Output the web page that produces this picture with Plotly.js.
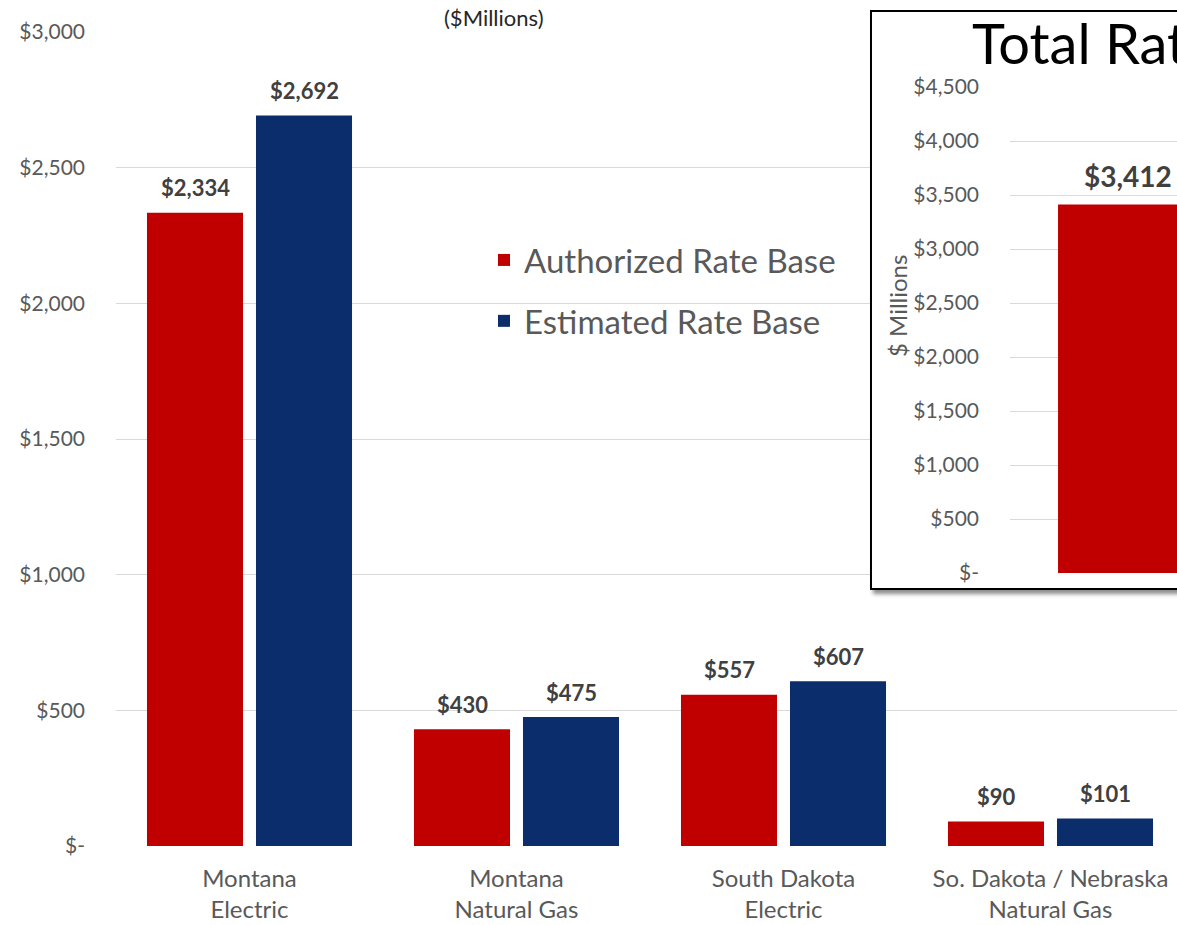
<!DOCTYPE html>
<html>
<head>
<meta charset="utf-8">
<script src="https://cdn.plot.ly/plotly-3.0.1.min.js"></script>
<style>
  html, body { margin:0; padding:0; background:#fff; overflow:hidden; width:1177px; height:925px; }
  #main { position:absolute; left:0; top:0; width:1177px; height:925px; }
  #inset { position:absolute; left:870px; top:10px; width:620px; height:576px;
           border:2px solid #000; background:#fff; box-shadow:3px 4px 4px rgba(0,0,0,0.45); }
</style>
</head>
<body>
<div id="main"></div>
<div id="inset"></div>
<script>
// ---- data ----
const categories = ["Montana<br>Electric", "Montana<br>Natural Gas", "South Dakota<br>Electric", "So. Dakota / Nebraska<br>Natural Gas"];
const seriesNames = ["Authorized Rate Base", "Estimated Rate Base"];
const authorized = [2334, 430, 557, 90];
const estimated = [2692, 475, 607, 101];
const yTickVals = [0, 500, 1000, 1500, 2000, 2500, 3000];
const yTickText = ["$-", "$500", "$1,000", "$1,500", "$2,000", "$2,500", "$3,000"];

const insetTitle = "Total Rate Base";
const insetCategories = ["Authorized", "Estimated"];
const insetValues = [3412, 3875];
const insetTickVals = [0, 500, 1000, 1500, 2000, 2500, 3000, 3500, 4000, 4500];
const insetTickText = ["$-", "$500", "$1,000", "$1,500", "$2,000", "$2,500", "$3,000", "$3,500", "$4,000", "$4,500"];

// ---- styles ----
const RED = "#C00000", BLUE = "#0B2D6B";
const FONT = "Lato, 'Open Sans', sans-serif";
const fmt = v => "$" + v.toLocaleString("en-US");

const traces = [
  {type:"bar", name:seriesNames[0], x:categories, y:authorized, marker:{color:RED}, legendgroup:"a", hoverinfo:"none"},
  {type:"bar", name:seriesNames[1], x:categories, y:estimated, marker:{color:BLUE}, legendgroup:"b", hoverinfo:"none"}
];

const anns = [];
[authorized, estimated].forEach((vals, i) => {
  vals.forEach((v, j) => {
    anns.push({x:categories[j], y:v, xref:"x", yref:"y", text:fmt(v), showarrow:false,
      xshift: i === 0 ? -54.5 : 54.5, yshift:25, yanchor:"middle",
      font:{family:FONT, size:22, color:"#404040", weight:"bold"}});
  });
});
anns.push({xref:"paper", yref:"paper", x:(494-116)/1061, y:(846-18)/814, text:"($Millions)", showarrow:false,
  xanchor:"center", yanchor:"middle", font:{family:FONT, size:22, color:"#262626"}});

const layout = {
  width:1177, height:925,
  margin:{l:116, r:0, t:32, b:79, pad:0},
  paper_bgcolor:"#fff", plot_bgcolor:"#fff",
  barmode:"group", bargap:0.1835, bargroupgap:0.119,
  showlegend:true,
  legend:{x:(484-116)/1061, y:(846-232)/814, xanchor:"left", yanchor:"top",
    font:{family:FONT, size:33, color:"#595959"}, traceorder:"grouped", tracegroupgap:15,
    bgcolor:"rgba(0,0,0,0)"},
  xaxis:{type:"category", range:[-0.5, -0.5 + 1061/267], showgrid:false, zeroline:false, showline:false,
    ticks:"", ticklabelstandoff:16, tickfont:{family:FONT, size:24, color:"#595959"}},
  yaxis:{range:[0, 3000], tickvals:yTickVals, ticktext:yTickText, showgrid:true, gridcolor:"#D9D9D9", gridwidth:1,
    zeroline:false, showline:false, ticks:"", ticklabelstandoff:30,
    tickfont:{family:FONT, size:21, color:"#595959"}},
  annotations:anns
};
Plotly.newPlot("main", traces, layout, {staticPlot:true});

// ---- inset ----
const insetTrace = [{type:"bar", x:insetCategories, y:insetValues, marker:{color:RED}, hoverinfo:"none", showlegend:false}];
const insetAnns = insetValues.map((v, j) => ({x:insetCategories[j], y:v, xref:"x", yref:"y", text:fmt(v), showarrow:false,
  yshift:29, yanchor:"middle", font:{family:FONT, size:28, color:"#404040", weight:"bold"}}));
insetAnns.push({xref:"paper", yref:"paper", x:(25-138)/472, y:(561-294)/486, text:"$ Millions", textangle:-90,
  showarrow:false, xanchor:"center", yanchor:"middle", font:{family:FONT, size:24, color:"#595959"}});

const insetLayout = {
  width:620, height:576,
  margin:{l:138, r:10, t:75, b:15, pad:0},
  paper_bgcolor:"#fff", plot_bgcolor:"#fff",
  bargap:0.407,
  title:{text:insetTitle, x:100/620, xref:"container", xanchor:"left", y:1-32/576, yref:"container", yanchor:"middle",
    font:{family:FONT, size:56, color:"#000"}},
  xaxis:{type:"category", range:[-0.5, 1.5], showgrid:false, zeroline:false, showline:false, showticklabels:false, ticks:""},
  yaxis:{range:[0, 4500], tickvals:insetTickVals, ticktext:insetTickText, showgrid:true, gridcolor:"#D9D9D9",
    zeroline:false, showline:false, ticks:"", ticklabelstandoff:30, tickfont:{family:FONT, size:21, color:"#595959"}},
  annotations:insetAnns
};
Plotly.newPlot("inset", insetTrace, insetLayout, {staticPlot:true});
</script>
</body>
</html>
